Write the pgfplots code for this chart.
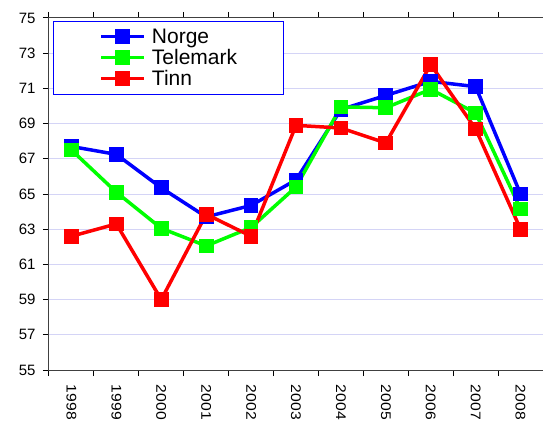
\documentclass[border=0pt]{standalone}
\usepackage{pgfplots}
\pgfplotsset{compat=1.18}
\usepackage{fontspec}
\setmainfont{Liberation Sans}
\usetikzlibrary{calc}
\definecolor{gridc}{HTML}{D4D4F6}
\definecolor{nblue}{HTML}{0000FF}
\definecolor{tgreen}{HTML}{00FF00}
\definecolor{tred}{HTML}{FF0000}
\begin{document}
\begin{tikzpicture}
\begin{axis}[
  scale only axis,
  width=494pt, height=352pt,
  xmin=-0.5, xmax=10.5,
  ymin=55, ymax=75,
  ytick={55,57,...,75},
  xtick={0,...,10},
  xticklabels={1998,1999,2000,2001,2002,2003,2004,2005,2006,2007,2008},
  minor xtick={-0.5,0.5,...,10.5},
  major x tick style={draw=none},
  minor x tick style={black, line width=1pt},
  ytick style={black, line width=1pt},
  tick align=outside,
  major tick length=6pt,
  minor tick length=6pt,
  ymajorgrids,
  grid style={gridc, line width=1pt},
  axis line style={black!75, line width=1pt},
  ticklabel style={font=\fontsize{15}{18}\selectfont},
  /pgf/number format/assume math mode=true,
  x tick label style={font=\fontsize{14}{16}\selectfont, rotate=-90, xscale=1.12, anchor=west},
  xticklabel shift=5pt,
  yticklabel shift=4pt,
  legend style={at={(rel axis cs:0.008,0.991)}, anchor=north west,
    draw=nblue, line width=1pt, fill=white,
    inner xsep=44pt, inner ysep=5pt,
    font=\fontsize{21}{22}\selectfont,
    row sep=0.5pt},
  legend cell align=left,
  legend image code/.code={\path (0pt,0pt) (49pt,0pt);\draw[mark repeat=2,mark phase=2,#1] plot coordinates {(2pt,0pt) (23.5pt,0pt) (45pt,0pt)};},
  every axis plot/.append style={line width=3.5pt, mark=square*, mark size=5.6pt, mark options={solid}},
]
\addplot[nblue, mark options={fill=nblue, draw=nblue}] coordinates {
 (0,67.7) (1,67.25) (2,65.35) (3,63.7) (4,64.35) (5,65.8) (6,69.8) (7,70.6) (8,71.4) (9,71.1) (10,65.0)};
\addlegendentry{Norge}
\addplot[tgreen, mark options={fill=tgreen, draw=tgreen}] coordinates {
 (0,67.5) (1,65.1) (2,63.05) (3,62.05) (4,63.1) (5,65.4) (6,69.95) (7,69.9) (8,70.95) (9,69.6) (10,64.15)};
\addlegendentry{Telemark}
\addplot[tred, mark options={fill=tred, draw=tred}] coordinates {
 (0,62.6) (1,63.3) (2,59.0) (3,63.85) (4,62.6) (5,68.9) (6,68.75) (7,67.9) (8,72.35) (9,68.7) (10,63.0)};
\addlegendentry{Tinn}
\end{axis}
\pgfresetboundingbox
\path[use as bounding box] ($(current axis.south west)+(-49pt,-53pt)$) rectangle ($(current axis.north east)+(0pt,18pt)$);
\end{tikzpicture}
\end{document}
